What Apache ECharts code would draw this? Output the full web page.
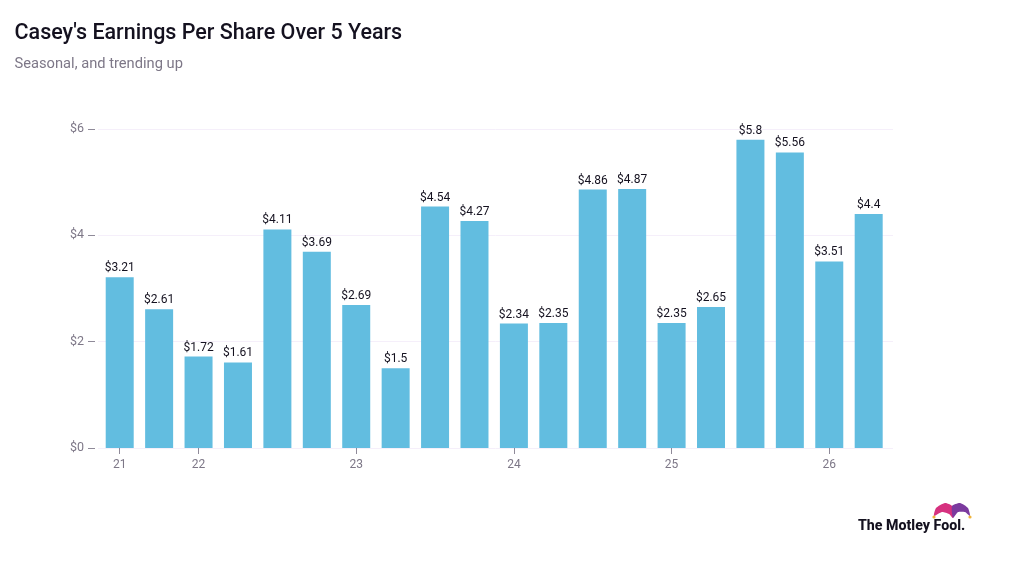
<!DOCTYPE html>
<html>
<head>
<meta charset="utf-8">
<style>html,body{margin:0;padding:0;background:#fff}#chart{width:1013px;height:572px}</style>
<script src="https://cdn.jsdelivr.net/npm/echarts@6/dist/echarts.min.js"></script>
</head>
<body>
<div id="chart"></div>
<script>
// Quarterly earnings per share; blank categories carry no axis label.
const quarterLabels = ['21','','22','','','','23','','','','24','','','','25','','','','26',''];
const epsValues = [3.21,2.61,1.72,1.61,4.11,3.69,2.69,1.5,4.54,4.27,2.34,2.35,4.86,4.87,2.35,2.65,5.8,5.56,3.51,4.4];
const yTicks = [0,2,4,6];
const chartTitle = "Casey's Earnings Per Share Over 5 Years";
const chartSubtitle = 'Seasonal, and trending up';

const font = 'Roboto, sans-serif';
const chart = echarts.init(document.getElementById('chart'), null, {renderer: 'canvas'});

chart.setOption({
  animation: false,
  backgroundColor: '#ffffff',
  title: {
    left: 14.5, top: 23, padding: 0, itemGap: 12,
    text: chartTitle,
    textStyle: {fontFamily: font, fontSize: 21.5, fontWeight: 500, color: '#14111f'},
    subtext: chartSubtitle,
    subtextStyle: {fontFamily: font, fontSize: 14.7, color: '#7d7787'}
  },
  grid: [
    {left: 100, right: 124.6, top: 129, bottom: 124},
    {left: 98, right: 120, top: 129, bottom: 124, z: 0}
  ],
  xAxis: [
    {
      type: 'category', data: quarterLabels, gridIndex: 0,
      axisLine: {show: false},
      axisTick: {
        show: true, alignWithLabel: true, length: 6,
        interval: (i) => quarterLabels[i] !== '',
        lineStyle: {color: '#8f8a99'}
      },
      axisLabel: {interval: 0, margin: 11, fontFamily: font, fontSize: 12, color: '#7d7787'}
    },
    {type: 'value', gridIndex: 1, min: 0, max: 1, show: false}
  ],
  yAxis: [
    {
      type: 'value', gridIndex: 0, min: 0, max: 6, interval: 2, offset: 5,
      axisLine: {show: false},
      axisTick: {show: true, length: 7, lineStyle: {color: '#8f8a99'}},
      axisLabel: {
        margin: 11, fontFamily: font, fontSize: 12.5, color: '#7d7787',
        formatter: (v) => yTicks.includes(v) ? '$' + v : ''
      },
      splitLine: {show: false}
    },
    {
      type: 'value', gridIndex: 1, min: 0, max: 6, interval: 2,
      axisLine: {show: false}, axisTick: {show: false}, axisLabel: {show: false},
      splitLine: {show: true, lineStyle: {color: '#f5effa', width: 1}}
    }
  ],
  series: [{
    type: 'bar', xAxisIndex: 0, yAxisIndex: 0, z: 3,
    data: epsValues, barWidth: 28,
    itemStyle: {color: '#62bde0'},
    label: {
      show: true, position: 'top', distance: 3,
      fontFamily: font, fontSize: 12, color: '#14111f',
      formatter: (p) => '$' + p.value
    }
  }],
  graphic: [
    {
      type: 'text', x: 858, y: 519, z: 10,
      style: {text: 'The Motley Fool.', fontFamily: font, fontSize: 14.2, fontWeight: 800, fill: '#14111f'}
    },
    // Jester hat emblem beside the wordmark
    {type: 'polygon', z: 10, shape: {smooth: 0.2, points: [[934,516],[936,508],[945,503],[952,506],[953,518],[949,514],[942,512]]}, style: {fill: '#d6317f'}},
    {type: 'polygon', z: 10, shape: {smooth: 0.2, points: [[952,506],[960,503],[968,508],[970,516],[965,512],[958,512],[953,518]]}, style: {fill: '#7b3a9e'}},
    {type: 'circle', z: 11, shape: {cx: 934, cy: 517, r: 1.6}, style: {fill: '#f0b43c'}},
    {type: 'circle', z: 11, shape: {cx: 970, cy: 517, r: 1.6}, style: {fill: '#f0b43c'}}
  ]
});
</script>
</body>
</html>
